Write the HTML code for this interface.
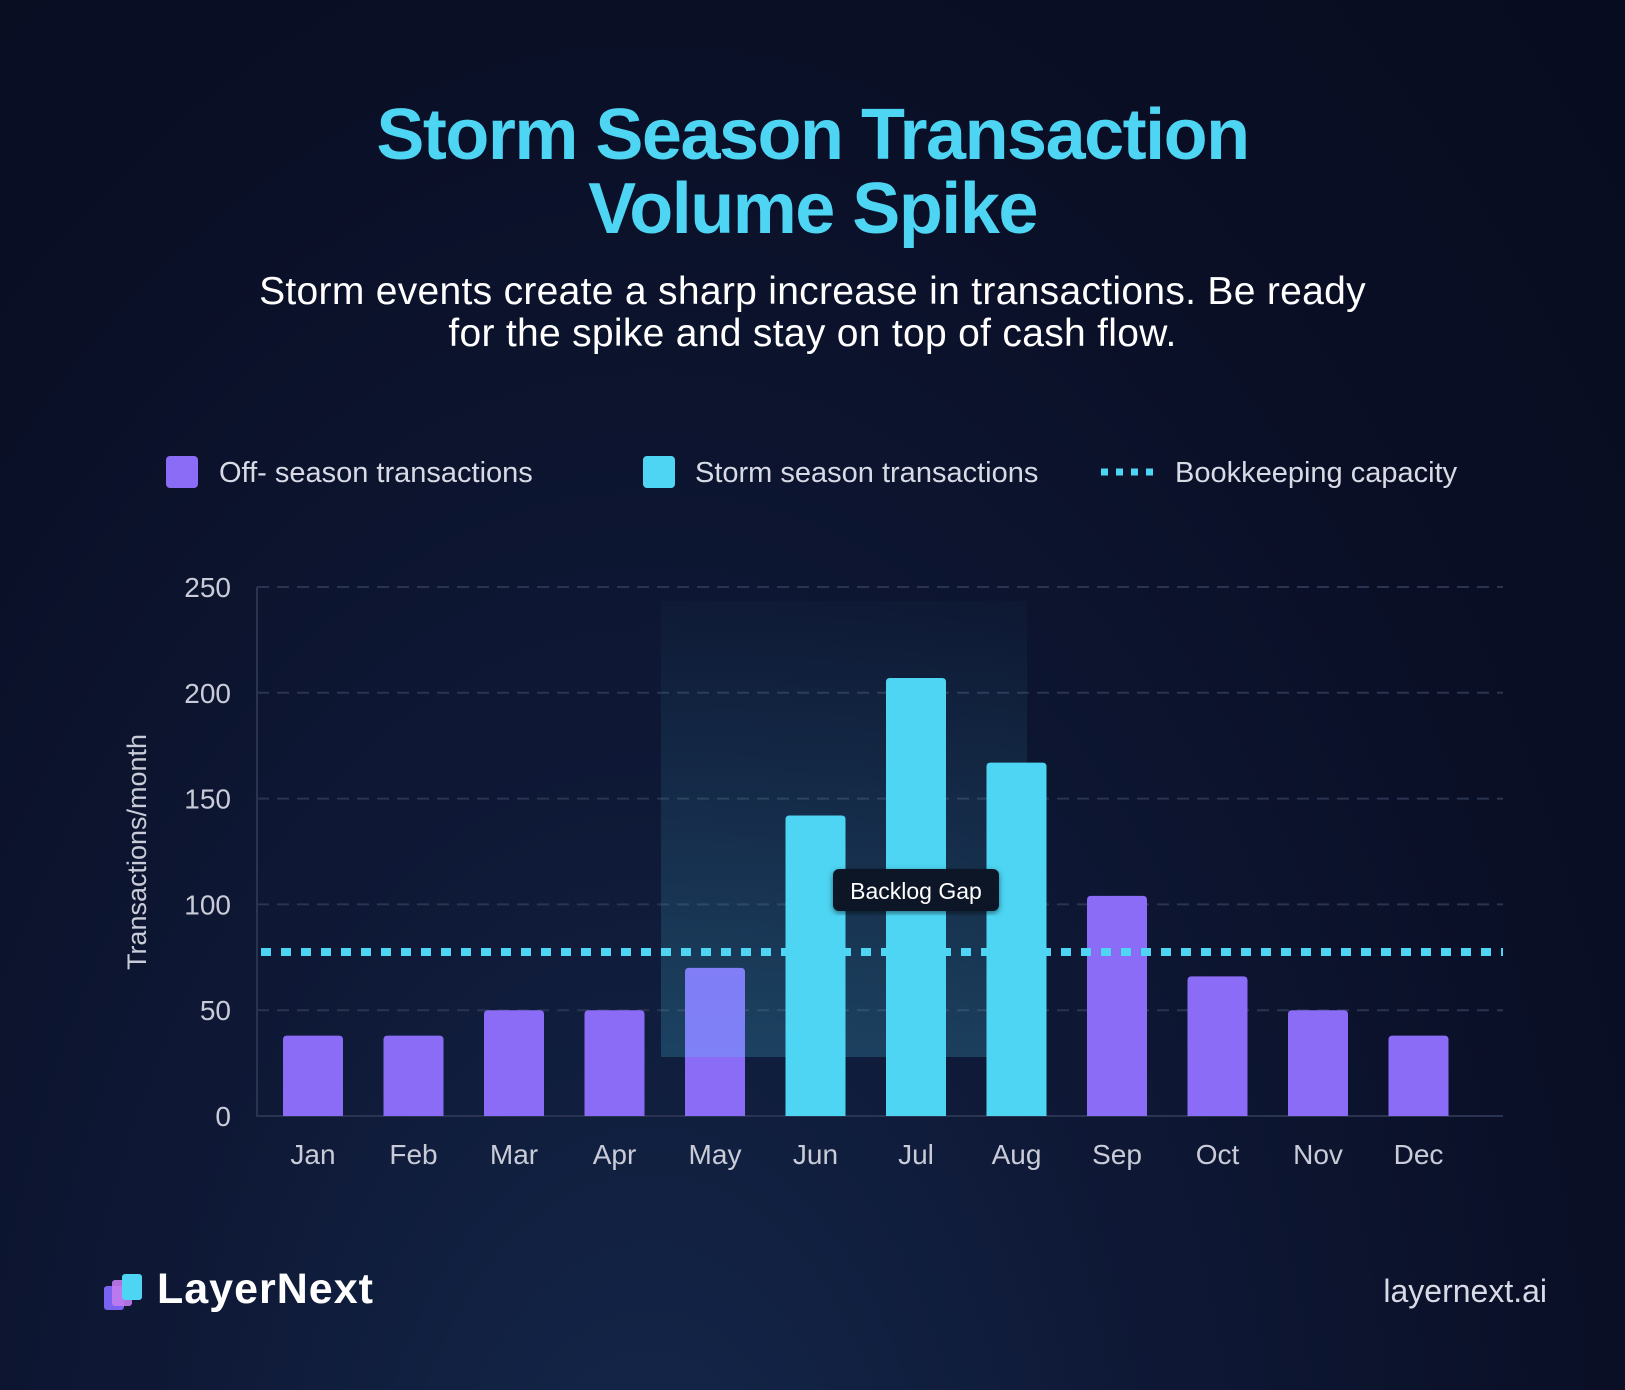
<!DOCTYPE html>
<html><head><meta charset="utf-8">
<style>
html,body{margin:0;padding:0}
body{width:1625px;height:1390px;overflow:hidden;font-family:"Liberation Sans",sans-serif;
background:radial-gradient(ellipse at 40% 115%,#15284c 0%,#0e1835 38%,#0a0f26 70%,#080c20 100%);position:relative;color:#fff}
.t{position:absolute;left:0;width:1625px;text-align:center}
</style></head><body>
<div class="t" style="top:98px;font-size:72px;font-weight:bold;color:#4dd5f3;line-height:74px;letter-spacing:-1.5px">Storm Season Transaction<br>Volume Spike</div>
<div class="t" style="top:271px;font-size:39px;line-height:42px;letter-spacing:0.3px">Storm events create a sharp increase in transactions. Be ready<br>for the spike and stay on top of cash flow.</div>
<svg width="1625" height="1390" style="position:absolute;left:0;top:0" id="chart">
<defs><linearGradient id="sh" x1="0" y1="0" x2="0" y2="1"><stop offset="0" stop-color="#4dd5f3" stop-opacity="0.02"/><stop offset="1" stop-color="#4dd5f3" stop-opacity="0.2"/></linearGradient>
<filter id="ds"><feDropShadow dx="0" dy="2" stdDeviation="3" flood-color="#000" flood-opacity="0.5"/></filter></defs>
<g font-size="29" fill="#d8dbe6">
<rect x="166" y="456" width="32" height="32" rx="4" fill="#8b6cf6"/>
<text x="219" y="482">Off- season transactions</text>
<rect x="643" y="456" width="32" height="32" rx="4" fill="#4dd5f3"/>
<text x="695" y="482">Storm season transactions</text>
<line x1="1101" y1="472" x2="1157" y2="472" stroke="#4dd5f3" stroke-width="7" stroke-dasharray="7,8"/>
<text x="1175" y="482">Bookkeeping capacity</text>
</g>
<text transform="translate(146,852) rotate(-90)" text-anchor="middle" font-size="27" fill="#c9ccd8">Transactions/month</text>
<g id="plot"></g>
</svg>
<div style="position:absolute;left:104px;top:1274px;width:44px;height:44px">
<div style="position:absolute;left:0;top:12px;width:20px;height:24px;background:#7a63f0;border-radius:3px"></div>
<div style="position:absolute;left:8px;top:6px;width:20px;height:26px;background:#c27bf0;border-radius:3px;opacity:.9"></div>
<div style="position:absolute;left:18px;top:0;width:20px;height:26px;background:#4dd5f3;border-radius:3px"></div>
</div>
<div style="position:absolute;left:157px;top:1265px;font-size:43px;font-weight:bold;letter-spacing:1px">LayerNext</div>
<div style="position:absolute;right:78px;top:1273px;font-size:32px;color:#d8dbe6">layernext.ai</div>
<script>
const months=["Jan","Feb","Mar","Apr","May","Jun","Jul","Aug","Sep","Oct","Nov","Dec"];
const values=[38,38,50,50,70,142,207,167,104,66,50,38];
const storm=[false,false,false,false,false,true,true,true,false,false,false,false];
const yTicks=[0,50,100,150,200,250];
const capacity=77.5;
const NS="http://www.w3.org/2000/svg";
const g=document.getElementById("plot");
const X0=257,X1=1503,Y0=1116,Y1=587,BW=60;
function y(v){return Y0-(v/250)*(Y0-Y1);}
function xc(i){return X0+56+i*100.5;}
function mk(t,a){const e=document.createElementNS(NS,t);for(const k in a)e.setAttribute(k,a[k]);g.appendChild(e);return e;}
yTicks.forEach(v=>{
 if(v>0){const l=mk("line",{x1:X0,x2:X1,y1:y(v),y2:y(v),stroke:"#2a3450","stroke-width":2,"stroke-dasharray":"12,8"});
 
 }
 const t=mk("text",{x:231,y:y(v)+10,"text-anchor":"end","font-size":28,fill:"#c9ccd8"});t.textContent=v;
 
 
});
const ax=mk("path",{d:`M${X0} ${Y1} V${Y0} H${X1}`,stroke:"#2a3450","stroke-width":2,fill:"none"});


function bar(i){const v=values[i];
 const r=mk("path",{d:`M${xc(i)-BW/2} ${Y0} V${y(v)+4} q0 -4 4 -4 H${xc(i)+BW/2-4} q4 0 4 4 V${Y0} Z`,fill:storm[i]?"#4dd5f3":"#8b6cf6"});
 
 }
months.forEach((m,i)=>{if(!storm[i])bar(i);});
const sh=mk("rect",{x:661,y:601,width:366,height:456,fill:"url(#sh)"});


const cl=mk("line",{x1:X0+4,x2:X1,y1:y(capacity),y2:y(capacity),stroke:"#4dd5f3","stroke-width":8,"stroke-dasharray":"10,10"});


months.forEach((m,i)=>{if(storm[i])bar(i);});
months.forEach((m,i)=>{const t=mk("text",{x:xc(i),y:1164,"text-anchor":"middle","font-size":28,fill:"#c9ccd8"});t.textContent=m;
 
 });
const tb=mk("rect",{x:833,y:869,width:166,height:42,rx:6,fill:"#0c1428",filter:"url(#ds)"});


const tt=mk("text",{x:916,y:899,"text-anchor":"middle","font-size":23,fill:"#fff"});tt.textContent="Backlog Gap";


</script>
</body></html>
